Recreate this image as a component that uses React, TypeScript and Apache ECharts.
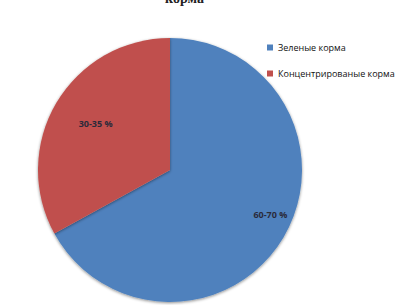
import React, { useEffect, useRef } from "react";
import * as echarts from "echarts";

const categories = ["Зеленые корма", "Концентрированые корма"];
const values = [67, 33];
const labels = ["60-70 %", "30-35 %"];
const colors = ["#4F81BD", "#C0504D"];
const titleText = "корма";

export default function App() {
  const ref = useRef<HTMLDivElement>(null);
  useEffect(() => {
    document.body.style.margin = "0";
    const chart = echarts.init(ref.current!, null, { renderer: "svg" });
    chart.setOption({
      animation: false,
      backgroundColor: "#ffffff",
      title: {
        text: titleText,
        left: 160,
        top: -14,
        textStyle: { fontFamily: "Liberation Serif", fontSize: 14, fontWeight: "bold", color: "#222" },
      },
      legend: {
        orient: "vertical",
        left: 262,
        top: 38,
        icon: "rect",
        itemWidth: 6,
        itemHeight: 6,
        itemGap: 17,
        data: categories,
        textStyle: { fontFamily: "Open Sans", fontSize: 9, color: "#111" },
      },
      series: [
        {
          type: "pie",
          center: [170, 170],
          radius: [0, 132],
          startAngle: 90,
          clockwise: true,
          data: categories.map((c, i) => ({
            name: c,
            value: values[i],
            itemStyle: { color: colors[i] },
            label: { formatter: labels[i] },
          })),
          itemStyle: {
            shadowBlur: 3,
            shadowColor: "rgba(0,0,0,0.45)",
            shadowOffsetY: 1,
          },
          label: {
            position: "inside",
            fontFamily: "Open Sans",
            fontSize: 9,
            fontWeight: "bold",
            color: "#2a2a3a",
          },
          labelLine: { show: false },
          labelLayout: (p: any) =>
            p.dataIndex === 0 ? { dx: 41, dy: 9 } : { dx: -15, dy: -11 },
        },
      ],
    });
    return () => chart.dispose();
  }, []);
  return <div ref={ref} style={{ width: 418, height: 305 }} />;
}
